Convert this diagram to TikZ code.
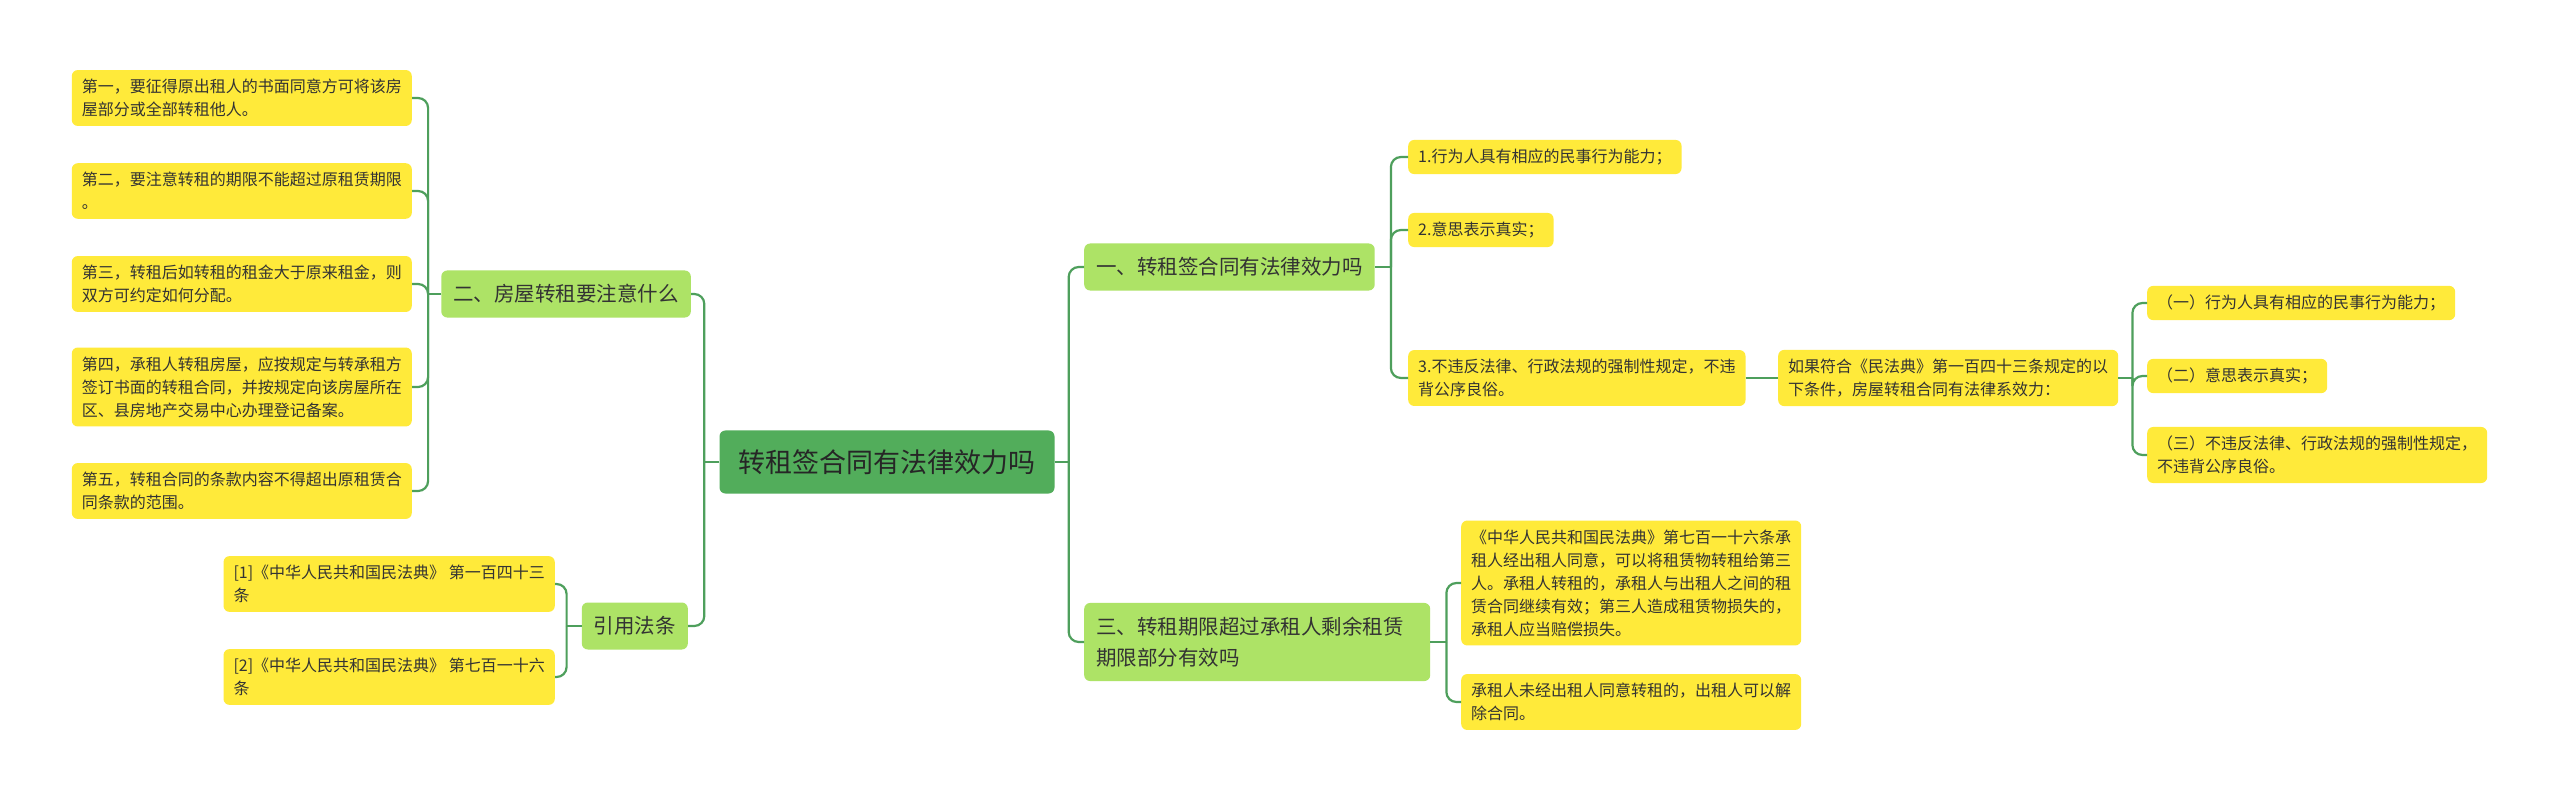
\documentclass[tikz,border=0pt]{standalone}
\usepackage{fontspec}
\setmainfont{Noto Sans CJK SC}
\usetikzlibrary{positioning}
\definecolor{leafyellow}{HTML}{FFEA3A}
\definecolor{topicgreen}{HTML}{ADE366}
\definecolor{rootgreen}{HTML}{52AD5B}
\definecolor{linegreen}{HTML}{4E9F5C}
\definecolor{ink}{HTML}{333333}

\begin{document}
\begin{tikzpicture}[x=1pt,y=-1pt,
  box/.style={rounded corners=6pt,inner xsep=10pt,inner ysep=9pt,align=left,text=ink},
  leafbox/.style={box,fill=leafyellow,font=\fontsize{16}{23}\selectfont},
  topicbox/.style={box,fill=topicgreen,inner xsep=12pt,inner ysep=14pt,font=\fontsize{20.5}{31}\selectfont},
  rootbox/.style={box,fill=rootgreen,inner xsep=19pt,inner ysep=19pt,text=black!85,font=\fontsize{27}{34}\selectfont},
  link/.style={draw=linegreen,line width=2.2pt,rounded corners=10pt}]
\useasboundingbox (0,0) rectangle (2560,803);
\fill[white] (0,0) rectangle (2560,803);
% ROOT
\node[rootbox] (root) at (887,462) {转租签合同有法律效力吗};
\coordinate (rootL) at ([xshift=-15pt]root.west);
\coordinate (rootR) at ([xshift=14pt]root.east);
% LEFT TOPICS
\node[topicbox,anchor=east] (t2) at (691,294) {二、房屋转租要注意什么};
\node[topicbox,anchor=east] (law) at (688,626) {引用法条};
\coordinate (t2L) at ([xshift=-13pt]t2.west);
\coordinate (lawL) at ([xshift=-15pt]law.west);
% notes on subletting (left of t2)
\node[leafbox,anchor=east] (n1) at (412,98) {第一，要征得原出租人的书面同意方可将该房\\屋部分或全部转租他人。};
\node[leafbox,anchor=east] (n2) at (412,191) {第二，要注意转租的期限不能超过原租赁期限\\。};
\node[leafbox,anchor=east] (n3) at (412,284) {第三，转租后如转租的租金大于原来租金，则\\双方可约定如何分配。};
\node[leafbox,anchor=east] (n4) at (412,387) {第四，承租人转租房屋，应按规定与转承租方\\签订书面的转租合同，并按规定向该房屋所在\\区、县房地产交易中心办理登记备案。};
\node[leafbox,anchor=east] (n5) at (412,491) {第五，转租合同的条款内容不得超出原租赁合\\同条款的范围。};
% cited articles
\node[leafbox,anchor=east] (ref1) at (555,584) {[1]《中华人民共和国民法典》 第一百四十三\\条};
\node[leafbox,anchor=east] (ref2) at (555,677) {[2]《中华人民共和国民法典》 第七百一十六\\条};
% RIGHT TOPICS
\node[topicbox,anchor=west] (t1) at (1084,267) {一、转租签合同有法律效力吗};
\node[topicbox,anchor=west,text width=322pt] (t3) at (1084,642) {三、转租期限超过承租人剩余租赁\\期限部分有效吗};
\coordinate (t1R) at ([xshift=16pt]t1.east);
\coordinate (t3R) at ([xshift=16pt]t3.east);
% conditions of validity
\node[leafbox,anchor=west] (c1) at (1408,157) {1.行为人具有相应的民事行为能力；};
\node[leafbox,anchor=west] (c2) at (1408,230) {2.意思表示真实；};
\node[leafbox,anchor=west] (c3) at (1408,378) {3.不违反法律、行政法规的强制性规定，不违\\背公序良俗。};
\node[leafbox,anchor=west] (code) at (1778,378) {如果符合《民法典》第一百四十三条规定的以\\下条件，房屋转租合同有法律系效力：};
\coordinate (codeR) at ([xshift=14pt]code.east);
\node[leafbox,anchor=west] (k1) at (2147,303) {（一）行为人具有相应的民事行为能力；};
\node[leafbox,anchor=west] (k2) at (2147,376) {（二）意思表示真实；};
\node[leafbox,anchor=west] (k3) at (2147,455) {（三）不违反法律、行政法规的强制性规定，\\不违背公序良俗。};
% partial validity
\node[leafbox,anchor=west] (a1) at (1461,583) {《中华人民共和国民法典》第七百一十六条承\\租人经出租人同意，可以将租赁物转租给第三\\人。承租人转租的，承租人与出租人之间的租\\赁合同继续有效；第三人造成租赁物损失的，\\承租人应当赔偿损失。};
\node[leafbox,anchor=west] (a2) at (1461,702) {承租人未经出租人同意转租的，出租人可以解\\除合同。};
% CONNECTORS
\draw[link] (root.west) -- (rootL);
\draw[link] (root.east) -- (rootR);
\foreach \n in {t2,law} \draw[link] (rootL) |- (\n.east);
\foreach \n in {t1,t3} \draw[link] (rootR) |- (\n.west);
\draw[link] (t2.west) -- (t2L);
\foreach \n in {n1,n2,n3,n4,n5} \draw[link] (t2L) |- (\n.east);
\draw[link] (law.west) -- (lawL);
\foreach \n in {ref1,ref2} \draw[link] (lawL) |- (\n.east);
\draw[link] (t1.east) -- (t1R);
\foreach \n in {c1,c2,c3} \draw[link] (t1R) |- (\n.west);
\draw[link] (c3.east) -- (code.west);
\draw[link] (code.east) -- (codeR);
\foreach \n in {k1,k2,k3} \draw[link] (codeR) |- (\n.west);
\draw[link] (t3.east) -- (t3R);
\foreach \n in {a1,a2} \draw[link] (t3R) |- (\n.west);
\end{tikzpicture}
\end{document}
